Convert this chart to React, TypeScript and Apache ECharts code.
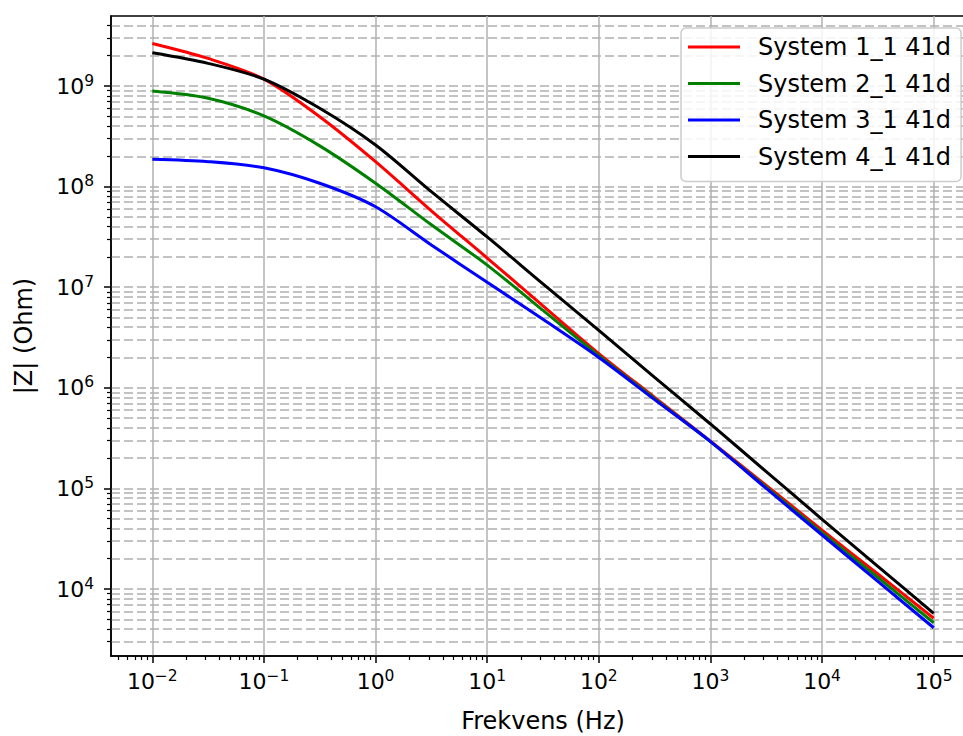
import React, { useEffect, useRef } from "react";
import * as echarts from "echarts";

// Frequency (Hz) at which the curves were read
const frequencies = [0.01, 0.0316, 0.1, 0.316, 1, 3.16, 10, 31.6, 100, 316, 1000, 3160, 10000, 31600, 100000];

// |Z| (Ohm)
const system1 = [2.65e9, 1.88e9, 1.17e9, 4.95e8, 1.77e8, 5.75e7, 1.95e7, 6.53e6, 2.19e6, 8.04e5, 2.95e5, 1.07e5, 3.85e4, 1.41e4, 5.12e3];
const system2 = [8.9e8, 7.55e8, 5.04e8, 2.54e8, 1.08e8, 4.17e7, 1.66e7, 5.89e6, 2.09e6, 7.81e5, 2.92e5, 1.03e5, 3.63e4, 1.3e4, 4.62e3];
const system3 = [1.87e8, 1.77e8, 1.54e8, 1.08e8, 6.31e7, 2.63e7, 1.12e7, 4.79e6, 2.0e6, 7.63e5, 2.92e5, 1.0e5, 3.44e4, 1.19e4, 4.12e3];
const system4 = [2.14e9, 1.68e9, 1.17e9, 6.0e8, 2.59e8, 8.9e7, 3.16e7, 1.08e7, 3.72e6, 1.27e6, 4.37e5, 1.47e5, 4.93e4, 1.68e4, 5.73e3];

const seriesNames = ["System 1_1 41d", "System 2_1 41d", "System 3_1 41d", "System 4_1 41d"];
const seriesValues = [system1, system2, system3, system4];
const seriesColors = ["#ff0000", "#008000", "#0000ff", "#000000"];

// decade exponents for the tick labels
const xMajorExponents = [-2, -1, 0, 1, 2, 3, 4, 5];
const yMajorExponents = [4, 5, 6, 7, 8, 9];
const xLogRange = [-2.37, 5.37];
const yLogRange = [3.334, 9.696];

const FONT = "DejaVu Sans";

function minorLogs(lo: number, hi: number): number[] {
  const out: number[] = [];
  for (let n = Math.floor(lo) - 1; n <= Math.ceil(hi); n++) {
    for (let k = 2; k <= 9; k++) {
      const v = n + Math.log10(k);
      if (v > lo && v < hi) out.push(v);
    }
  }
  return out;
}

const powLabel = (v: number) => {
  const e = Math.round(v);
  return `{b|10}{s|${e < 0 ? "\u2212" + -e : e}}`;
};

const rich = {
  b: { fontSize: 22, fontFamily: FONT, color: "#000" },
  s: { fontSize: 15.5, fontFamily: FONT, color: "#000", padding: [0, 0, 11, 0] },
};

export default function App() {
  const ref = useRef<HTMLDivElement>(null);
  useEffect(() => {
    if (!ref.current) return;
    const chart = echarts.init(ref.current, undefined, { renderer: "svg" });
    const gridColor = "#b0b0b0";
    const option = {
      animation: false,
      backgroundColor: "#ffffff",
      grid: {
        left: 111,
        top: 16,
        width: 864,
        bottom: 80,
        outerBoundsMode: "none",
        containLabel: false,
        show: true,
        borderColor: "#000",
        borderWidth: 1.5,
        backgroundColor: "transparent",
      },
      legend: {
        orient: "vertical",
        left: 681,
        top: 28,
        padding: [6, 10, 12, 7],
        icon: "rect",
        itemWidth: 52,
        itemHeight: 3,
        itemGap: 10.5,
        backgroundColor: "rgba(255,255,255,0.85)",
        borderColor: "#cccccc",
        borderWidth: 1.5,
        borderRadius: 5,
        textStyle: { fontSize: 24, fontFamily: FONT, color: "#000", padding: [0, 0, 0, 13], lineHeight: 26 },
        data: seriesNames,
      },
      xAxis: [
        {
          type: "value",
          min: xLogRange[0],
          max: xLogRange[1],
          position: "bottom",
          name: "Frekvens (Hz)",
          nameLocation: "middle",
          nameGap: 53,
          nameTextStyle: { fontSize: 24, fontFamily: FONT, color: "#000" },
          axisLine: { show: true, onZero: false, lineStyle: { color: "#000", width: 1.5 } },
          axisTick: { show: true, customValues: xMajorExponents, length: 7, lineStyle: { color: "#000", width: 1.5 } },
          axisLabel: { customValues: xMajorExponents, formatter: powLabel, rich, margin: 12 },
          splitLine: { show: true, lineStyle: { color: gridColor, width: 1.5, type: "solid" } },
        },
        {
          type: "value",
          min: xLogRange[0],
          max: xLogRange[1],
          position: "bottom",
          axisLine: { show: false, onZero: false },
          axisTick: { show: true, customValues: minorLogs(xLogRange[0], xLogRange[1]), length: 4, lineStyle: { color: "#000", width: 1.2 } },
          axisLabel: { show: false },
          splitLine: { show: false },
        },
      ],
      yAxis: [
        {
          type: "value",
          min: yLogRange[0],
          max: yLogRange[1],
          position: "left",
          name: "|Z| (Ohm)",
          nameLocation: "middle",
          nameGap: 75,
          nameRotate: 90,
          nameTextStyle: { fontSize: 24, fontFamily: FONT, color: "#000" },
          axisLine: { show: true, onZero: false, lineStyle: { color: "#000", width: 1.5 } },
          axisTick: { show: true, customValues: yMajorExponents, length: 7, lineStyle: { color: "#000", width: 1.5 } },
          axisLabel: { customValues: yMajorExponents, formatter: powLabel, rich, margin: 17 },
          splitLine: { show: true, lineStyle: { color: gridColor, width: 1.5, type: [9, 4] } },
        },
        {
          type: "value",
          min: yLogRange[0],
          max: yLogRange[1],
          position: "left",
          axisLine: { show: false, onZero: false },
          axisTick: { show: true, customValues: minorLogs(yLogRange[0], yLogRange[1]), length: 4, lineStyle: { color: "#000", width: 1.2 } },
          axisLabel: { show: false },
          splitLine: { show: true, lineStyle: { color: gridColor, width: 1.5, type: [9, 4] } },
        },
      ],
      series: seriesNames.map((name, i) => ({
        name,
        type: "line",
        xAxisIndex: 0,
        yAxisIndex: 0,
        data: frequencies.map((f, j) => [Math.log10(f), Math.log10(seriesValues[i][j])]),
        smooth: 0.3,
        symbol: "none",
        showSymbol: false,
        color: seriesColors[i],
        lineStyle: { color: seriesColors[i], width: 3 },
      })),
    };
    chart.setOption(option as any);
    return () => chart.dispose();
  }, []);
  return <div ref={ref} style={{ position: "fixed", left: 0, top: 0, width: 963, height: 736 }} />;
}
